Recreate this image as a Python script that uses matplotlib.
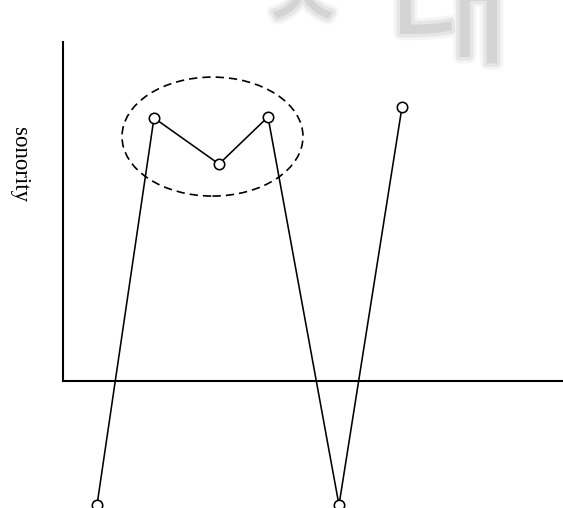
import matplotlib
matplotlib.use('Agg')
import matplotlib.pyplot as plt
import matplotlib.patheffects as pe
from matplotlib.patches import Ellipse

# syllable positions along the word and their sonority values
positions = [0.68, 1.82, 3.12, 4.10, 5.52, 6.78]
sonority = [-3.66, 7.76, 6.40, 7.79, -3.66, 8.08]

# dashed ring around the peak
ring_center = (2.99, 7.21)
ring_width = 3.62
ring_height = 3.51

fig = plt.figure(figsize=(5.63, 5.08), dpi=100)

# faint, soft lettering running off the top edge
soft = [pe.Stroke(linewidth=9, foreground='#f5f5f5'),
        pe.Stroke(linewidth=5, foreground='#e6e6e6'),
        pe.Normal()]
fig.text(302 / 563, 1 - 31 / 508, 'ㅈ', fontsize=70, color='#d4d4d4',
         family=['Noto Sans CJK KR'], ha='center', va='baseline', zorder=0,
         path_effects=soft)
fig.text(450 / 563, 1 - 53 / 508, '대', fontsize=95, color='#d4d4d4',
         family=['Noto Sans CJK KR'], ha='center', va='baseline', zorder=0,
         path_effects=soft)

ax = fig.add_axes([63 / 563, 127 / 508, 500 / 563, 339 / 508])
ax.patch.set_alpha(0)
ax.set_xlim(0, 10)
ax.set_ylim(0, 10)

for side in ['top', 'right']:
    ax.spines[side].set_visible(False)
for side in ['left', 'bottom']:
    ax.spines[side].set_linewidth(1.5)
ax.set_xticks([])
ax.set_yticks([])

ax.plot(positions, sonority, color='black', lw=1.15, marker='o', ms=7.5,
        mfc='white', mec='black', mew=1.15, clip_on=False, zorder=3)

ring = Ellipse(ring_center, ring_width, ring_height, fill=False,
               edgecolor='black', lw=1.2, linestyle=(0, (5, 3)), clip_on=False)
ax.add_patch(ring)

fig.text(19 / 563, 1 - 165 / 508, 'sonority', rotation=270, fontsize=16.5,
         family='Liberation Serif', ha='center', va='center')

fig.savefig('out.png', dpi=100)
